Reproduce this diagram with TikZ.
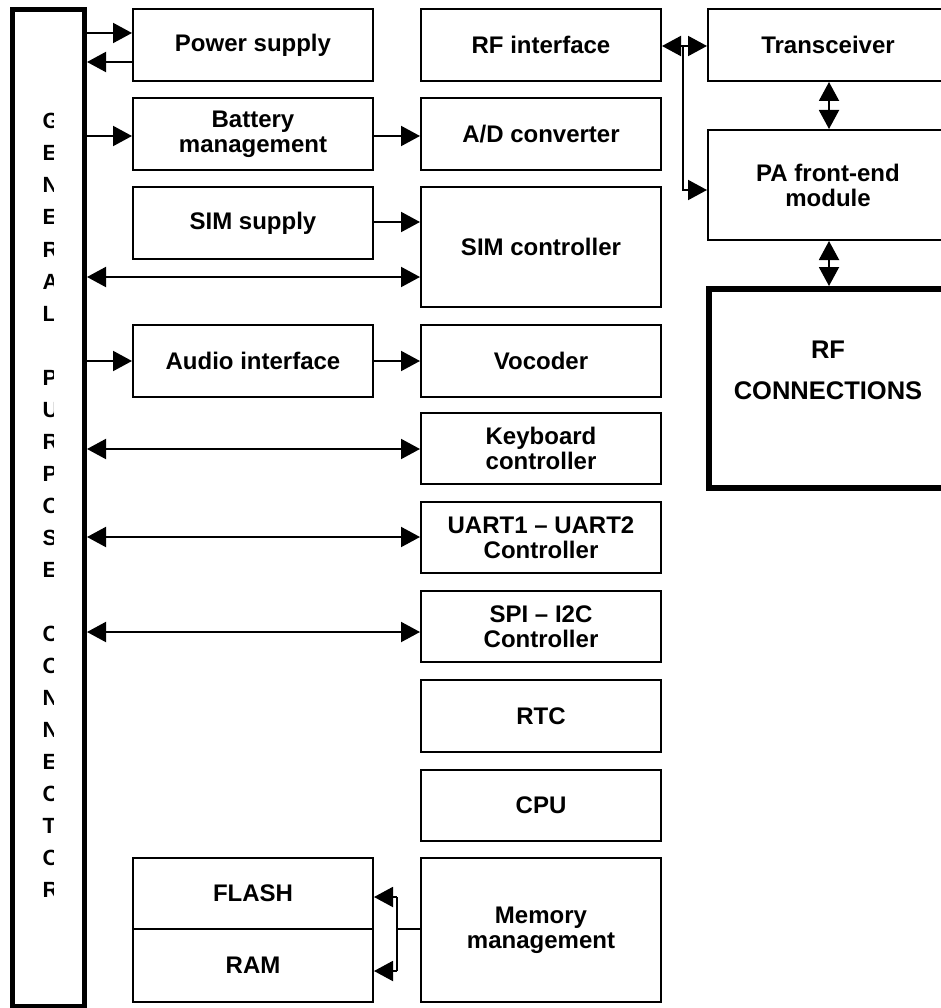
\documentclass[tikz,border=0pt]{standalone}
\usepackage{fontspec}
\setmainfont{Liberation Sans}
\usetikzlibrary{arrows.meta}
\begin{document}
\begin{tikzpicture}[x=1pt,y=-1pt,
  box/.style={draw, line width=2pt, rectangle, inner sep=0pt, align=center,
    minimum width=240pt, font=\bfseries\fontsize{24}{25}\selectfont},
  heavybox/.style={draw, line width=6pt, rectangle, inner sep=0pt},
  conbox/.style={draw, line width=5pt, rectangle, inner sep=0pt},
  arr/.style={line width=2pt, -{Triangle[length=19pt,width=20pt]}},
  darr/.style={line width=2pt, {Triangle[length=19pt,width=20pt]}-{Triangle[length=19pt,width=20pt]}},
  ln/.style={line width=2pt},
  letter/.style={anchor=base west, inner sep=0pt, font=\bfseries\fontsize{22}{22}\selectfont},
  bigtext/.style={inner sep=0pt, align=center, font=\bfseries\fontsize{25.5}{26}\selectfont}
]
\clip (0,0) rectangle (941,1008);
\fill[white] (0,0) rectangle (941,1008);

% general purpose connector
\node[conbox, minimum width=72pt, minimum height=996pt] (conn) at (48.5,508) {};
\begin{scope}
\clip (14,0) rectangle (53.5,1008);
\foreach \ch/\k in {G/0,E/1,N/2,E/3,R/4,A/5,L/6,P/8,U/9,R/10,P/11,O/12,S/13,E/14,C/16,O/17,N/18,N/19,E/20,C/21,T/22,O/23,R/24}
  \node[letter] (l\k) at (42.5,129+32*\k) {\ch};
\end{scope}

% left column
\node[box, minimum height=72pt] (ps) at (253,45) {Power supply};
\node[box, minimum height=72pt] (bat) at (253,134) {Battery\\management};
\node[box, minimum height=72pt] (simsup) at (253,223) {SIM supply};
\node[box, minimum height=72pt] (audio) at (253,361) {Audio interface};
\node[box, minimum height=71pt] (flash) at (253,893.5) {FLASH};
\node[box, minimum height=73pt] (ram) at (253,965.5) {RAM};

% middle column
\node[box, minimum height=72pt] (rfi) at (541,45) {RF interface};
\node[box, minimum height=72pt] (adc) at (541,134) {A/D converter};
\node[box, minimum height=120pt] (simctl) at (541,247) {SIM controller};
\node[box, minimum height=72pt] (voc) at (541,361) {Vocoder};
\node[box, minimum height=71pt] (kbd) at (541,448.5) {Keyboard\\controller};
\node[box, minimum height=71pt] (uart) at (541,537.5) {UART1 – UART2\\Controller};
\node[box, minimum height=71pt] (spi) at (541,626.5) {SPI – I2C\\Controller};
\node[box, minimum height=72pt] (rtc) at (541,716) {RTC};
\node[box, minimum height=71pt] (cpu) at (541,805.5) {CPU};
\node[box, minimum height=144pt] (mem) at (541,930) {Memory\\management};

% right column
\node[box, minimum height=72pt] (trx) at (828,45) {Transceiver};
\node[box, minimum height=110pt] (pa) at (828,185) {PA front-end\\module};
\node[heavybox, minimum width=238pt, minimum height=199pt] (rfc) at (828,388.5) {};
\node[bigtext] (rfctext) at (828,370) {RF\\[15pt]CONNECTIONS};

% connector links
\draw[arr] (conn.east |- 0,33) -- (ps.west |- 0,33);
\draw[arr] (ps.west |- 0,62) -- (conn.east |- 0,62);
\draw[arr] (conn.east |- 0,136) -- (bat.west |- 0,136);
\draw[arr] (bat.east |- 0,136) -- (adc.west |- 0,136);
\draw[arr] (simsup.east |- 0,222) -- (simctl.west |- 0,222);
\draw[darr] (conn.east |- 0,277) -- (simctl.west |- 0,277);
\draw[arr] (conn.east |- 0,361) -- (audio.west |- 0,361);
\draw[arr] (audio.east |- 0,361) -- (voc.west |- 0,361);
\draw[darr] (conn.east |- 0,449) -- (kbd.west |- 0,449);
\draw[darr] (conn.east |- 0,537) -- (uart.west |- 0,537);
\draw[darr] (conn.east |- 0,632) -- (spi.west |- 0,632);

% RF links
\coordinate (split) at (683,46);
\draw[darr] (rfi.east |- split) -- (trx.west |- split);
\draw[arr] (split) |- (pa.west |- 0,190);
\draw[darr] (trx.south -| 829,0) -- (pa.north -| 829,0);
\draw[darr] (pa.south -| 829,0) -- (rfc.north -| 829,0);

% memory links
\coordinate (mj) at (397,929);
\draw[ln] (mem.west |- mj) -- (mj);
\draw[ln] (397,897) -- (397,971);
\draw[arr] (397,897) -- (flash.east |- 0,897);
\draw[arr] (397,971) -- (ram.east |- 0,971);
\end{tikzpicture}
\end{document}
